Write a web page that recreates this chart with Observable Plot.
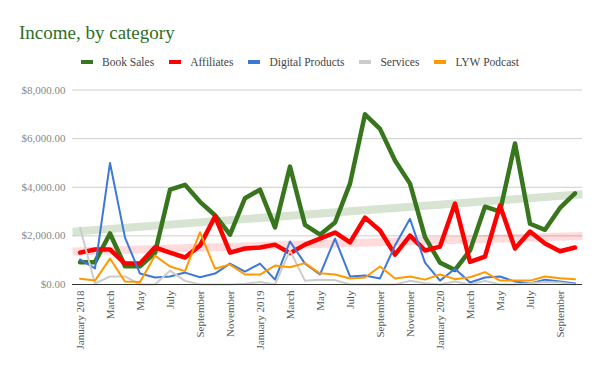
<!DOCTYPE html>
<html>
<head>
<meta charset="utf-8">
<script src="https://cdn.jsdelivr.net/npm/d3@7"></script>
<script src="https://cdn.jsdelivr.net/npm/@observablehq/plot@0.6"></script>
<style>
  html, body { margin: 0; padding: 0; background: #fff; }
  #page { width: 600px; height: 371px; position: relative; font-family: "Liberation Serif", "DejaVu Serif", serif; }
  #head { position: relative; width: 600px; height: 75px; }
  #title { position: absolute; left: 19px; top: 23px; font-size: 19px; line-height: 19px; color: #2f6e1f; white-space: nowrap; }
  #legend { position: absolute; left: 0; top: 55px; width: 600px; display: flex; justify-content: center; align-items: center; font-size: 11.5px; line-height: 14px; color: #444; }
  .item { display: flex; align-items: center; margin: 0 7.5px; }
  .sw { width: 12px; height: 4px; margin-right: 9px; }
  svg { display: block; }
</style>
</head>
<body>
<div id="page">
  <div id="head">
    <div id="title">Income, by category</div>
    <div id="legend"></div>
  </div>
  <div id="chart"></div>
</div>
<script>
const months = ["January 2018","February","March","April","May","June","July","August","September","October","November","December",
  "January 2019","February","March","April","May","June","July","August","September","October","November","December",
  "January 2020","February","March","April","May","June","July","August","September","October"];

const seriesNames = ["Book Sales","Affiliates","Digital Products","Services","LYW Podcast"];
const seriesColors = ["#38761d","#ff0000","#3c78d8","#cccccc","#ff9900"];

const bookSales = [920,920,2100,750,750,1300,3900,4100,3400,2850,2050,3550,3900,2350,4850,2450,2050,2550,4150,7000,6400,5100,4150,1950,900,600,1400,3200,3000,5800,2500,2250,3150,3750];
const affiliates = [1310,1440,1440,860,860,1530,1310,1110,1600,2800,1310,1480,1520,1640,1290,1640,1890,2140,1730,2750,2220,1230,2010,1400,1560,3330,930,1150,3250,1480,2180,1690,1370,1520];
const digitalProducts = [1030,660,5000,1930,450,290,330,490,300,450,860,530,860,200,1770,860,410,1890,330,370,250,1600,2700,900,160,650,80,290,330,120,40,200,120,40];
const services = [2340,40,330,330,0,0,570,150,0,0,0,30,100,0,1400,150,200,180,0,0,0,0,150,50,0,120,0,150,0,0,50,100,80,0];
const lywPodcast = [240,160,1070,120,100,1190,740,550,2150,650,820,410,410,780,710,880,460,410,250,290,740,250,330,200,410,220,300,510,160,160,160,330,260,220];

const yTicks = [0,2000,4000,6000,8000];

const seriesValues = [bookSales, affiliates, digitalProducts, services, lywPodcast];
const strokeWidths = [4.5, 4.5, 2, 2, 2];

// legend
const legend = document.getElementById("legend");
seriesNames.forEach((name, k) => {
  const it = document.createElement("div");
  it.className = "item";
  const sw = document.createElement("div");
  sw.className = "sw";
  sw.style.background = seriesColors[k];
  const tx = document.createElement("span");
  tx.textContent = name;
  it.appendChild(sw); it.appendChild(tx);
  legend.appendChild(it);
});

const rows = seriesValues.map((vals) => vals.map((v, i) => ({i, v})));

// linear trendlines (least squares) for Book Sales and Affiliates
function trend(vals) {
  const n = vals.length;
  const mx = d3.mean(vals, (v, i) => i);
  const my = d3.mean(vals);
  let sxy = 0, sxx = 0;
  vals.forEach((v, i) => { sxy += (i - mx) * (v - my); sxx += (i - mx) * (i - mx); });
  const b = sxy / sxx, a = my - b * mx;
  return [-0.5, n - 0.5].map(x => ({i: x, v: a + b * x}));
}

const evenTicks = months.map((m, i) => i).filter(i => i % 2 === 0);

const chart = Plot.plot({
  width: 600,
  height: 296,
  marginTop: 14.5,
  marginBottom: 87,
  marginLeft: 72,
  marginRight: 18,
  x: {type: "linear", domain: [-0.5, months.length - 0.5]},
  y: {domain: [0, 8000]},
  style: {fontFamily: "Liberation Serif, DejaVu Serif, serif", fontSize: "11px", background: "#fff"},
  marks: [
    Plot.gridY(yTicks.slice(1), {stroke: "#cccccc", strokeOpacity: 1}),
    Plot.axisY({ticks: yTicks, tickFormat: d3.format("$,.2f"), tickSize: 0, tickPadding: 7, fill: "#888", label: null}),
    Plot.axisX({ticks: evenTicks, tickFormat: i => months[i], tickRotate: -90, tickSize: 0, tickPadding: 6, fill: "#555", label: null}),
    Plot.line(trend(bookSales), {x: "i", y: "v", stroke: seriesColors[0], strokeOpacity: 0.2, strokeWidth: 8, strokeLinecap: "butt"}),
    Plot.line(trend(affiliates), {x: "i", y: "v", stroke: seriesColors[1], strokeOpacity: 0.14, strokeWidth: 8, strokeLinecap: "butt"}),
    ...rows.map((r, k) => Plot.line(r, {x: "i", y: "v", stroke: seriesColors[k], strokeWidth: strokeWidths[k]})),
    Plot.ruleY([0], {stroke: "#333"})
  ]
});
document.getElementById("chart").appendChild(chart);
</script>
</body>
</html>
